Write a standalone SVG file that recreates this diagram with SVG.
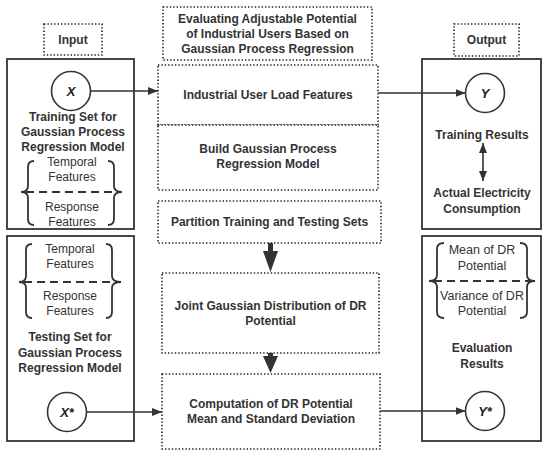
<svg xmlns="http://www.w3.org/2000/svg" width="550" height="456" viewBox="0 0 550 456">
<defs>
<style>
.dot{fill:#fff;stroke:#222;stroke-width:1.6;stroke-dasharray:1.4 2}
.solid{fill:#fff;stroke:#333;stroke-width:1.8}
.t{font-family:"Liberation Sans",Arial,sans-serif;font-size:12px;font-weight:bold;fill:#333;text-anchor:middle}
.n{font-family:"Liberation Sans",Arial,sans-serif;font-size:12px;fill:#333;text-anchor:middle}
.v{font-family:"Liberation Sans",Arial,sans-serif;font-size:13px;font-style:italic;font-weight:bold;fill:#222;text-anchor:middle}
.circ{fill:#fff;stroke:#333;stroke-width:1.6}
.brace{fill:none;stroke:#333;stroke-width:1.8}
.dash{stroke:#333;stroke-width:2;stroke-dasharray:8 5}
.line{stroke:#333;stroke-width:1.6;fill:none}
</style>
<marker id="ah" markerWidth="10" markerHeight="8" refX="10" refY="4" orient="auto" markerUnits="userSpaceOnUse">
<path d="M0,0 L10,4 L0,8 Z" fill="#333"/>
</marker>
<marker id="ahs" markerWidth="10" markerHeight="8" refX="0" refY="4" orient="auto" markerUnits="userSpaceOnUse">
<path d="M10,0 L0,4 L10,8 Z" fill="#333"/>
</marker>
</defs>

<g id="input-label">
<rect class="dot" x="44" y="24" width="58" height="31"/>
<text class="t" x="73" y="44">Input</text>
</g>
<g id="output-label">
<rect class="dot" x="454" y="24" width="65" height="32"/>
<text class="t" x="486.5" y="44">Output</text>
</g>

<g id="title">
<rect class="dot" x="163" y="7" width="209" height="53"/>
<text class="t" x="267.5" y="23">Evaluating Adjustable Potential</text>
<text class="t" x="267.5" y="38">of Industrial Users Based on</text>
<text class="t" x="267.5" y="53">Gaussian Process Regression</text>
</g>

<g id="training-set">
<rect class="solid" x="7" y="59" width="127" height="170"/>
<text class="t" x="73" y="121">Training Set for</text>
<text class="t" x="73" y="136">Gaussian Process</text>
<text class="t" x="73" y="151">Regression Model</text>
<text class="n" x="72" y="166">Temporal</text>
<text class="n" x="72" y="181">Features</text>
<text class="n" x="72" y="211">Response</text>
<text class="n" x="72" y="226">Features</text>
<path class="brace" d="M34,161 Q28,161 28,167 L28,186 Q28,192 21,192 Q28,192 28,198 L28,219 Q28,225 34,225"/>
<path class="brace" d="M108,161 Q114,161 114,167 L114,186 Q114,192 122,192 Q114,192 114,198 L114,219 Q114,225 108,225"/>
<line class="dash" x1="26" y1="192" x2="118" y2="192"/>
</g>
<g id="node-x">
<circle class="circ" cx="71" cy="91" r="19.5"/>
<text class="v" x="71" y="96">X</text>
</g>

<g id="testing-set">
<rect class="solid" x="7" y="236" width="127" height="205"/>
<text class="n" x="70" y="253">Temporal</text>
<text class="n" x="70" y="268">Features</text>
<text class="n" x="70" y="300">Response</text>
<text class="n" x="70" y="315">Features</text>
<path class="brace" d="M32,244 Q26,244 26,250 L26,276 Q26,282 19,282 Q26,282 26,288 L26,312 Q26,318 32,318"/>
<path class="brace" d="M106,244 Q112,244 112,250 L112,276 Q112,282 121,282 Q112,282 112,288 L112,312 Q112,318 106,318"/>
<line class="dash" x1="24" y1="282" x2="116" y2="282"/>
<text class="t" x="70" y="341">Testing Set for</text>
<text class="t" x="70" y="357">Gaussian Process</text>
<text class="t" x="70" y="372">Regression Model</text>
</g>
<g id="node-xstar">
<circle class="circ" cx="67" cy="412" r="19.5"/>
<text class="v" x="67" y="417">X*</text>
</g>

<g id="load-features">
<rect class="dot" x="158" y="65" width="220" height="60"/>
<text class="t" x="268" y="99">Industrial User Load Features</text>
</g>
<g id="build-gpr">
<rect class="dot" x="158" y="125" width="220" height="65"/>
<text class="t" x="268" y="153">Build Gaussian Process</text>
<text class="t" x="268" y="168">Regression Model</text>
</g>
<g id="partition">
<rect class="dot" x="158" y="201" width="223" height="42"/>
<text class="t" x="269.5" y="226">Partition Training and Testing Sets</text>
</g>
<g id="joint">
<rect class="dot" x="162" y="273" width="217" height="80"/>
<text class="t" x="270.5" y="310">Joint Gaussian Distribution of DR</text>
<text class="t" x="270.5" y="325">Potential</text>
</g>
<g id="computation">
<rect class="dot" x="162" y="374" width="218" height="75"/>
<text class="t" x="271" y="408">Computation of DR Potential</text>
<text class="t" x="271" y="423">Mean and Standard Deviation</text>
</g>

<g id="training-results">
<rect class="solid" x="422" y="59" width="119" height="170"/>
<text class="t" x="482" y="139">Training Results</text>
<text class="t" x="482" y="197">Actual Electricity</text>
<text class="t" x="482" y="213">Consumption</text>
</g>
<g id="node-y">
<circle class="circ" cx="485" cy="93" r="19.5"/>
<text class="v" x="485" y="98">Y</text>
</g>

<g id="evaluation-results">
<rect class="solid" x="422" y="236" width="119" height="205"/>
<text class="n" x="482" y="254" style="font-size:12.5px">Mean of DR</text>
<text class="n" x="482" y="270" style="font-size:12.5px">Potential</text>
<text class="n" x="482" y="300" style="font-size:12.5px">Variance of DR</text>
<text class="n" x="482" y="315" style="font-size:12.5px">Potential</text>
<path class="brace" d="M444,243 Q437,243 437,249 L437,275 Q437,281 429,281 Q437,281 437,287 L437,312 Q437,318 444,318"/>
<path class="brace" d="M520,243 Q527,243 527,249 L527,275 Q527,281 535,281 Q527,281 527,287 L527,312 Q527,318 520,318"/>
<line class="dash" x1="434" y1="281" x2="530" y2="281"/>
<text class="t" x="482" y="352">Evaluation</text>
<text class="t" x="482" y="368">Results</text>
</g>
<g id="node-ystar">
<circle class="circ" cx="485" cy="411" r="19.5"/>
<text class="v" x="485" y="416">Y*</text>
</g>

<g id="connectors">
<line class="line" x1="90.5" y1="91" x2="158" y2="91" marker-end="url(#ah)"/>
<line class="line" x1="378" y1="93" x2="465.5" y2="93" marker-end="url(#ah)"/>
<line class="line" x1="483" y1="143" x2="483" y2="181" marker-start="url(#ahs)" marker-end="url(#ah)"/>
<line class="line" x1="86.5" y1="412" x2="162" y2="412" marker-end="url(#ah)"/>
<line class="line" x1="380" y1="411" x2="465.5" y2="411" marker-end="url(#ah)"/>
<path d="M268,243 L273,243 L273,251 L278,251 L270.5,272 L263,251 L268,251 Z" fill="#333"/>
<path d="M268,353 L273,353 L273,356 L278,356 L270.5,373 L263,356 L268,356 Z" fill="#333"/>
</g>
</svg>
